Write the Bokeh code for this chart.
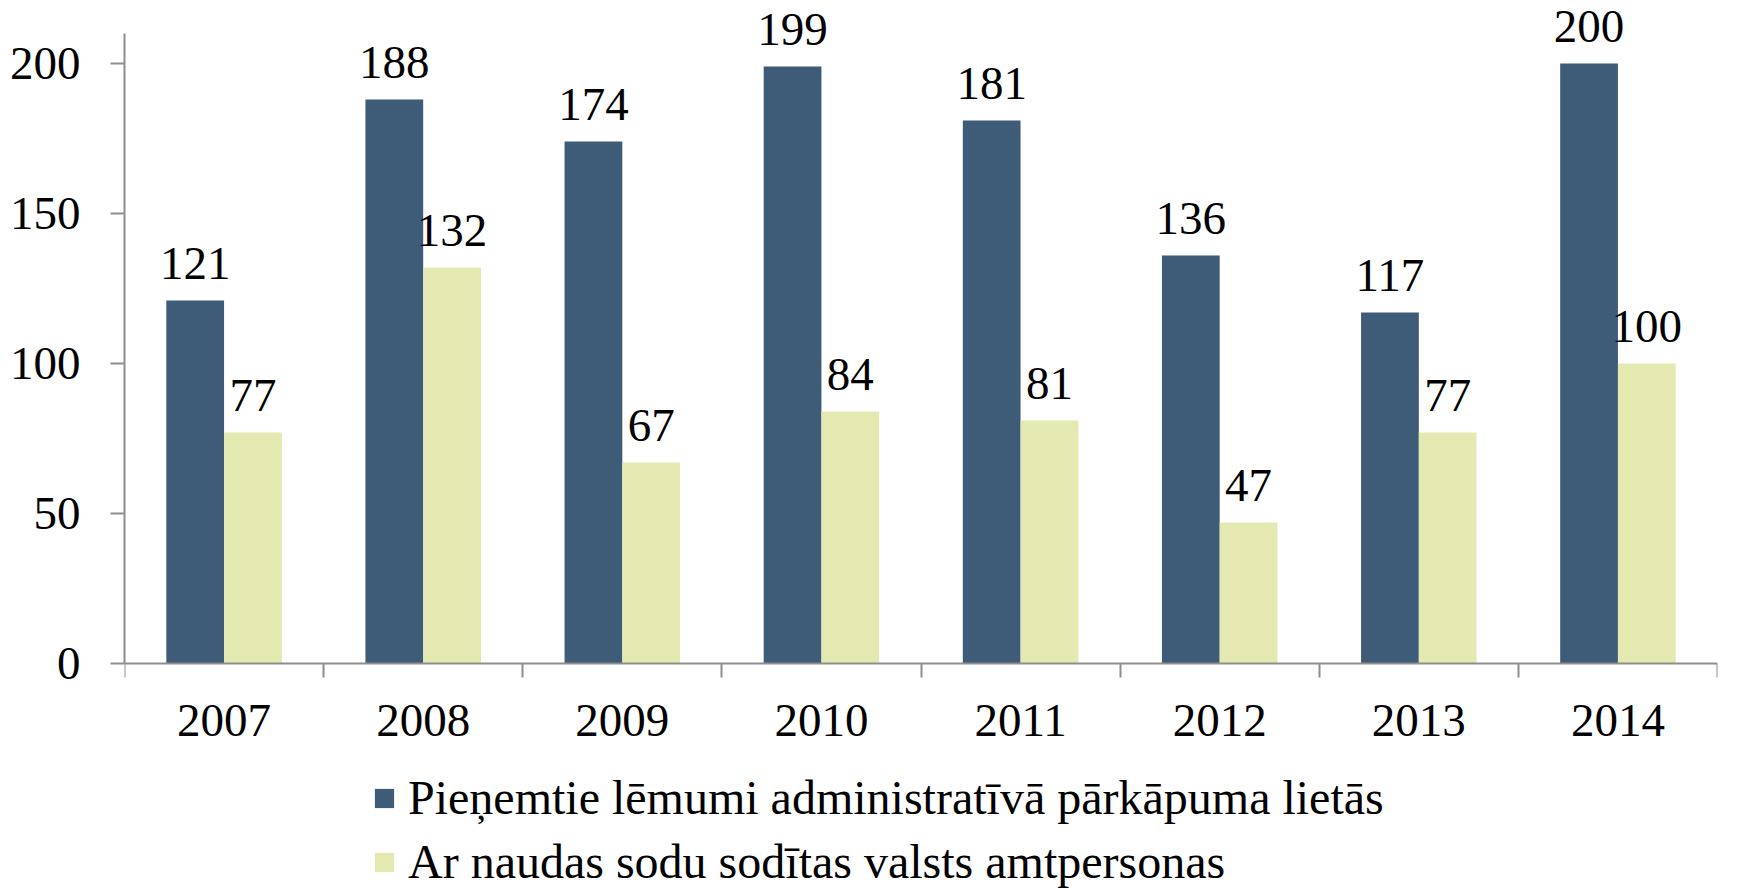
import numpy as np
from bokeh.plotting import figure
from bokeh.models import (ColumnDataSource, Range1d, FixedTicker, LabelSet, Legend, LegendItem)
from bokeh.transform import dodge
from bokeh.embed import file_html
from bokeh.resources import INLINE

years = ["2007", "2008", "2009", "2010", "2011", "2012", "2013", "2014"]
decisions = [121, 188, 174, 199, 181, 136, 117, 200]
fined = [77, 132, 67, 84, 81, 47, 77, 100]
series_names = ["Pieņemtie lēmumi administratīvā pārkāpuma lietās",
                "Ar naudas sodu sodītas valsts amtpersonas"]
y_ticks = [0, 50, 100, 150, 200]

DARK = "#3E5B77"
LIGHT = "#E3E9B0"
AXIS = "#8E8E8E"
FONT = "Liberation Serif"

xc = np.arange(len(years)) + 0.5
src = ColumnDataSource(dict(x=xc, a=decisions, b=fined,
                            la=[str(v) for v in decisions],
                            lb=[str(v) for v in fined]))

# frame spans the whole height; axis line limited by bounds, x axis fixed at 0
p = figure(width=1746, height=889, output_backend="svg", toolbar_location=None,
           x_range=Range1d(0, len(years)), y_range=Range1d(-75.33, 221),
           min_border_left=124, min_border_right=29, min_border_top=0,
           min_border_bottom=0)
p.outline_line_color = None
p.grid.visible = False
p.background_fill_color = "white"

bw = 0.29
ra = p.vbar(x=dodge("x", -bw / 2), top="a", bottom=0, width=bw, source=src,
            fill_color=DARK, line_color=None)
rb = p.vbar(x=dodge("x", bw / 2), top="b", bottom=0, width=bw, source=src,
            fill_color=LIGHT, line_color=None)

for col, lab, off in (("a", "la", -bw / 2), ("b", "lb", bw / 2)):
    ls = LabelSet(x=dodge("x", off), y=col, text=lab, source=src,
                  text_align="center", text_baseline="alphabetic", y_offset=22,
                  text_font=FONT, text_font_size="47px", text_color="black")
    p.add_layout(ls)

# x axis: labels at category centers, ticks at category boundaries
xa = p.xaxis[0]
xa.fixed_location = 0
xa.ticker = FixedTicker(ticks=list(xc), minor_ticks=list(range(len(years) + 1)))
xa.major_label_overrides = {float(x): y for x, y in zip(xc, years)}
xa.major_tick_out = 0
xa.major_tick_in = 0
xa.minor_tick_out = 14
xa.minor_tick_in = 0
xa.minor_tick_line_color = AXIS
xa.minor_tick_line_width = 2
xa.axis_line_color = AXIS
xa.axis_line_width = 2
xa.major_label_text_font = FONT
xa.major_label_text_font_size = "47px"
xa.major_label_text_color = "black"
xa.major_label_standoff = 27

ya = p.yaxis[0]
ya.bounds = (0, 210)
ya.ticker = FixedTicker(ticks=y_ticks, minor_ticks=[])
ya.major_tick_out = 14
ya.major_tick_in = 0
ya.major_tick_line_color = AXIS
ya.major_tick_line_width = 2
ya.axis_line_color = AXIS
ya.axis_line_width = 2
ya.major_label_text_font = FONT
ya.major_label_text_font_size = "47px"
ya.major_label_text_color = "black"
ya.major_label_standoff = 30

legend = Legend(items=[LegendItem(label=series_names[0], renderers=[ra]),
                       LegendItem(label=series_names[1], renderers=[rb])],
                location=(248, 0), orientation="vertical",
                label_text_font=FONT, label_text_font_size="48px",
                label_text_color="black",
                glyph_width=24, glyph_height=24, label_standoff=12,
                spacing=9, padding=0, margin=0,
                border_line_color=None, background_fill_alpha=0)
p.add_layout(legend, "center")

open("out.html", "w").write(file_html(p, INLINE))
